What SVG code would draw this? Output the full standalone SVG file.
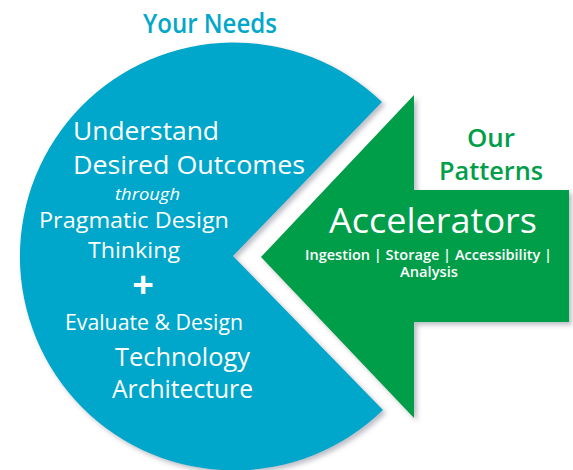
<svg xmlns="http://www.w3.org/2000/svg" width="573" height="470" viewBox="0 0 573 470">
<defs>
<filter id="sh" x="-10%" y="-10%" width="125%" height="125%">
<feDropShadow dx="3" dy="3" stdDeviation="2.5" flood-color="#6b7080" flood-opacity="0.45"/>
</filter>
</defs>
<style>
text{font-family:"Open Sans","Noto Sans","Liberation Sans",sans-serif;font-weight:500}
.w{fill:#ffffff}
.b{fill:#02A7CA;font-weight:600}
.g{fill:#009E49;font-weight:600}
.bold{font-weight:600}
.plus{font-weight:700}
</style>
<rect width="573" height="470" fill="#ffffff"/>
<g id="your-needs">
<path d="M233 256 L382 102 A214 214 0 1 0 383 410 Z" fill="#02A7CA" filter="url(#sh)"/>
<text class="b" x="143" y="33" font-size="27" textLength="134" lengthAdjust="spacingAndGlyphs">Your Needs</text>
<text class="w" x="73" y="140" font-size="25" textLength="146" lengthAdjust="spacingAndGlyphs">Understand</text>
<text class="w" x="73" y="174" font-size="25" textLength="232" lengthAdjust="spacingAndGlyphs">Desired Outcomes</text>
<text class="w" x="115" y="200" font-size="16" font-style="italic" textLength="65" lengthAdjust="spacingAndGlyphs">through</text>
<text class="w" x="39" y="228" font-size="21" textLength="190" lengthAdjust="spacingAndGlyphs">Pragmatic Design</text>
<text class="w" x="88" y="258" font-size="21" textLength="92" lengthAdjust="spacingAndGlyphs">Thinking</text>
<text class="w plus" x="143" y="298" font-size="38" text-anchor="middle">+</text>
<text class="w" x="65" y="330" font-size="22" textLength="178" lengthAdjust="spacingAndGlyphs">Evaluate &amp; Design</text>
<text class="w" x="115" y="366" font-size="25" textLength="135" lengthAdjust="spacingAndGlyphs">Technology</text>
<text class="w" x="112" y="398" font-size="25" textLength="141" lengthAdjust="spacingAndGlyphs">Architecture</text>
</g>
<g id="our-patterns">
<path d="M261 257 L414 95 L414 190 L569 190 L569 322 L414 322 L414 418 Z" fill="#009E49" filter="url(#sh)"/>
<text class="g" x="467" y="147" font-size="26" textLength="48" lengthAdjust="spacingAndGlyphs">Our</text>
<text class="g" x="439" y="180" font-size="26" textLength="104" lengthAdjust="spacingAndGlyphs">Patterns</text>
<text class="w" x="329" y="233" font-size="35" textLength="208" lengthAdjust="spacingAndGlyphs">Accelerators</text>
<text class="w bold" x="305" y="260" font-size="13.5" textLength="247" lengthAdjust="spacingAndGlyphs">Ingestion | Storage | Accessibility |</text>
<text class="w bold" x="400" y="277" font-size="13.5" textLength="58" lengthAdjust="spacingAndGlyphs">Analysis</text>
</g>
</svg>
